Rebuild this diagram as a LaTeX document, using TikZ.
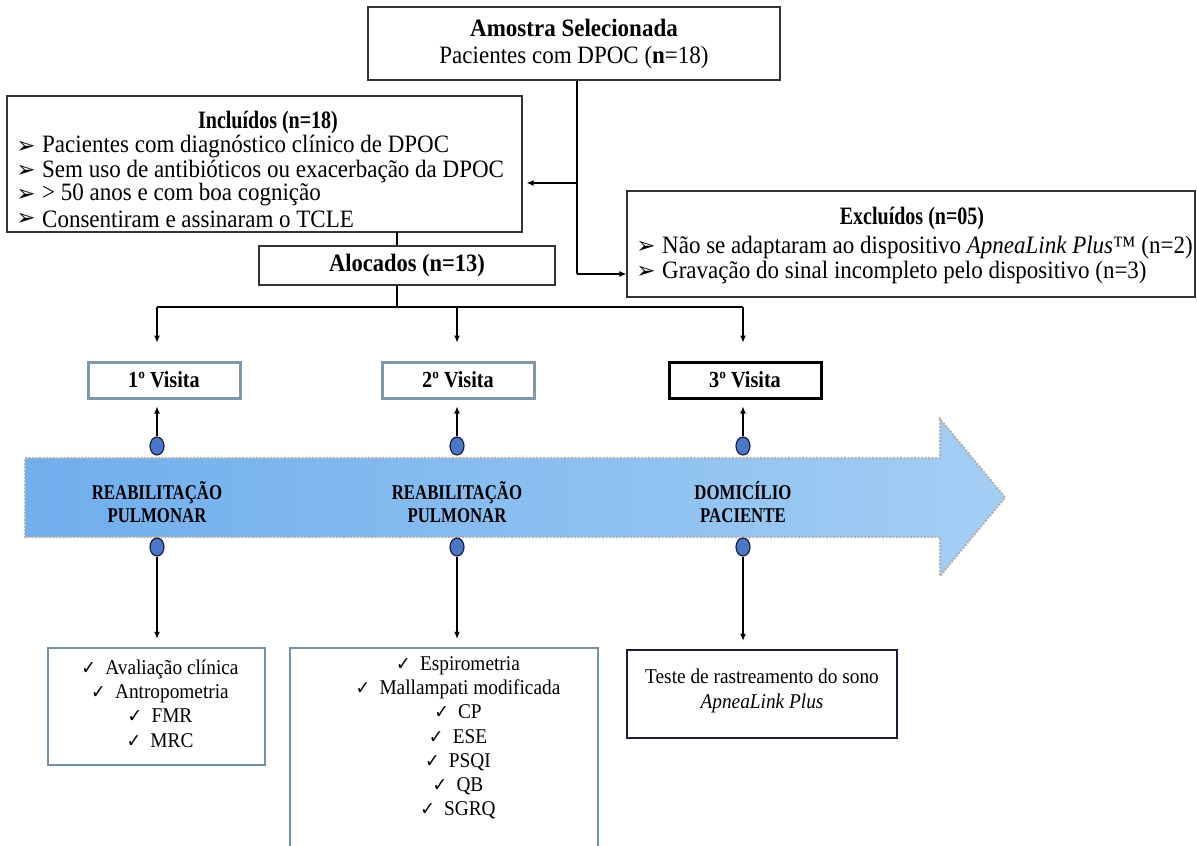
\documentclass[tikz,border=0pt]{standalone}
\usepackage{graphicx}
\usepackage{fontspec}
\setmainfont{Liberation Serif}
\newfontfamily\dejavu{DejaVu Sans}
\usetikzlibrary{arrows.meta,shapes.geometric}
\definecolor{vgray}{HTML}{8198AA}
\definecolor{bgray}{HTML}{7592A8}
\definecolor{navyb}{HTML}{1C1C3C}
\definecolor{dotblue}{HTML}{4A78C8}
\definecolor{bandL}{HTML}{DDEBFA}
\definecolor{bandM}{HTML}{62A4EA}
\definecolor{bandMM}{HTML}{8DC1F1}
\definecolor{bandR}{HTML}{C2DEF8}
\pgfdeclarehorizontalshading{bandshade}{100bp}{color(0bp)=(bandL); color(10bp)=(bandM); color(55bp)=(bandMM); color(100bp)=(bandR)}
\newcommand\fszT{\rmfamily\fontsize{25}{24}\selectfont}
\newcommand\fszH{\rmfamily\fontsize{25}{24}\selectfont\bfseries}
\newcommand\fszV{\rmfamily\fontsize{23}{24}\selectfont\bfseries}
\newcommand\fszB{\rmfamily\fontsize{21}{23}\selectfont\bfseries}
\newcommand\fszL{\rmfamily\fontsize{21}{24.3}\selectfont}
\newcommand\nx[1]{\scalebox{0.92}[1]{#1}}
\newcommand\nh[1]{\scalebox{0.8}[1]{#1}}
\newcommand\chk{{\dejavu\fontsize{19}{19}\selectfont ✓}\hspace{10pt}}
\begin{document}
\begin{tikzpicture}[x=1pt,y=-1pt,
  box/.style={draw=black!80, line width=1.4pt, fill=white, inner sep=0pt},
  vbox/.style={draw=vgray, line width=3pt, fill=white, minimum width=152pt, minimum height=36pt, inner sep=0pt, font=\fszV},
  bbox/.style={draw=bgray, line width=2.5pt, fill=white, inner sep=0pt},
  arr/.style={line width=1.1pt, -{Latex[length=7pt,width=6pt]}},
  ln/.style={line width=1.1pt},
  dotn/.style={ellipse, draw=navyb, line width=1.2pt, fill=dotblue, minimum width=14pt, minimum height=18pt, inner sep=0pt},
  txt/.style={inner sep=0pt, font=\fszT, anchor=west},
  bul/.style={inner sep=0pt, font=\dejavu\fontsize{23}{23}\selectfont},
  bandtxt/.style={inner sep=0pt, align=center, font=\fszB},
  ltxt/.style={inner sep=0pt, align=center, font=\fszL}]
\clip (0,0) rectangle (1197,846);
\fill[white] (0,0) rectangle (1197,846);

% ---------- top ----------
\node[box, minimum width=412pt, minimum height=73pt, align=center, font=\rmfamily\fontsize{25}{27}\selectfont] (top) at (574,43.5)
  {\nx{\bfseries Amostra Selecionada}\\\nx{Pacientes com DPOC (\textbf{n}=18)}};

% ---------- included ----------
\node[box, minimum width=515pt, minimum height=136pt] (incl) at (264.5,164) {};
\node[inner sep=0pt, font=\fszH] (inclT) at (268,122) {\nh{Incluídos (n=18)}};
\node[bul] (ib1) at (26,147) {➢}; \node[txt] (it1) at (42,147) {\nx{Pacientes com diagnóstico clínico de DPOC}};
\node[bul] (ib2) at (26,171) {➢}; \node[txt] (it2) at (42,171) {\nx{Sem uso de antibióticos ou exacerbação da DPOC}};
\node[bul] (ib3) at (26,195) {➢}; \node[txt] (it3) at (42,195) {\nx{> 50 anos e com boa cognição}};
\node[bul] (ib4) at (26,219) {➢}; \node[txt] (it4) at (42,219) {\nx{Consentiram e assinaram o TCLE}};

% ---------- excluded ----------
\node[box, minimum width=568pt, minimum height=106pt] (excl) at (911,244) {};
\node[inner sep=0pt, font=\fszH] (exclT) at (912,218) {\nh{Excluídos (n=05)}};
\node[bul] (eb1) at (646,247) {➢}; \node[txt] (et1) at (662,247) {\nx{Não se adaptaram ao dispositivo \textit{ApneaLink Plus}™ (n=2)}};
\node[bul] (eb2) at (646,272) {➢}; \node[txt] (et2) at (662,272) {\nx{Gravação do sinal incompleto pelo dispositivo (n=3)}};

% ---------- allocated ----------
\node[box, minimum width=296pt, minimum height=39pt, font=\rmfamily\fontsize{25}{24}\selectfont\bfseries] (aloc) at (407,265.5) {\scalebox{0.9}[1]{Alocados (n=13)}};

% connectors top part
\coordinate (jx) at (577,274);
\coordinate (ji) at (577,183);
\coordinate (ja) at (397,232);
\coordinate (dj) at (397,307);
\draw[ln] (top.south -| jx) -- (jx);
\draw[arr] (jx) -- (jx -| excl.west);
\draw[arr, shorten >=4pt] (ji) -- (ji -| incl.east);
\draw[ln] (ja) -- (ja |- aloc.north);
\coordinate (d1) at (157,307);
\coordinate (d2) at (457,307);
\coordinate (d3) at (743,307);
\draw[ln] (dj |- aloc.south) -- (dj);
\draw[ln] (d1) -- (d3);

% ---------- visits ----------
\node[vbox] (v1) at (164,380) {\scalebox{0.88}[1]{1º Visita}};
\node[vbox] (v2) at (458,380) {\scalebox{0.88}[1]{2º Visita}};
\node[vbox, draw=black] (v3) at (745,380) {\scalebox{0.88}[1]{3º Visita}};
\draw[arr, shorten >=18pt] (d1) -- (d1 |- v1.north);
\draw[arr, shorten >=18pt] (d2) -- (d2 |- v2.north);
\draw[arr, shorten >=18pt] (d3) -- (d3 |- v3.north);

% ---------- band arrow ----------
\path[shading=bandshade, draw=gray!60, line width=2.2pt, dash pattern=on 2pt off 1.5pt]
  (25,458) -- (940,458) -- (940,419) -- (1005,497.5) -- (940,576) -- (940,537) -- (25,537) -- cycle;
\node[bandtxt] (r1) at (157,502) {\nh{REABILITAÇÃO}\\\nh{PULMONAR}};
\node[bandtxt] (r2) at (457,502) {\nh{REABILITAÇÃO}\\\nh{PULMONAR}};
\node[bandtxt] (r3) at (743,502) {\nh{DOMICÍLIO}\\\nh{PACIENTE}};

% circles and arrows
\node[dotn] (c1t) at (157,446) {};
\node[dotn] (c2t) at (457,446) {};
\node[dotn] (c3t) at (743,446) {};
\node[dotn] (c1b) at (157,547) {};
\node[dotn] (c2b) at (457,547) {};
\node[dotn] (c3b) at (743,547) {};
\draw[arr, shorten >=7pt] (c1t.north) -- (c1t |- v1.south);
\draw[arr, shorten >=7pt] (c2t.north) -- (c2t |- v2.south);
\draw[arr, shorten >=7pt] (c3t.north) -- (c3t |- v3.south);

% ---------- bottom boxes ----------
\node[bbox, minimum width=217pt, minimum height=117pt] (b1) at (156.5,706.5) {};
\node[bbox, minimum width=308pt, minimum height=220pt] (b2) at (444,758) {};
\node[bbox, draw=navyb, minimum width=270pt, minimum height=88pt] (b3) at (762,694) {};
\draw[arr, shorten >=8pt] (c1b.south) -- (c1b |- b1.north);
\draw[arr, shorten >=8pt] (c2b.south) -- (c2b |- b2.north);
\draw[arr, shorten >=8pt] (c3b.south) -- (c3b |- b3.north);

\node[ltxt] (l1) at (160,703.5) {\nx{\chk Avaliação clínica}\\\nx{\chk Antropometria}\\\nx{\chk FMR}\\\nx{\chk MRC}};
\node[ltxt, anchor=north] (l2) at (458,656) {\nx{\chk Espirometria}\\\nx{\chk Mallampati modificada}\\\nx{\chk CP}\\\nx{\chk ESE}\\\nx{\chk PSQI}\\\nx{\chk QB}\\\nx{\chk SGRQ}};
\node[ltxt] (l3) at (762,691) {\nx{Teste de rastreamento do sono}\\\nx{\textit{ApneaLink Plus}}};
\end{tikzpicture}
\end{document}
